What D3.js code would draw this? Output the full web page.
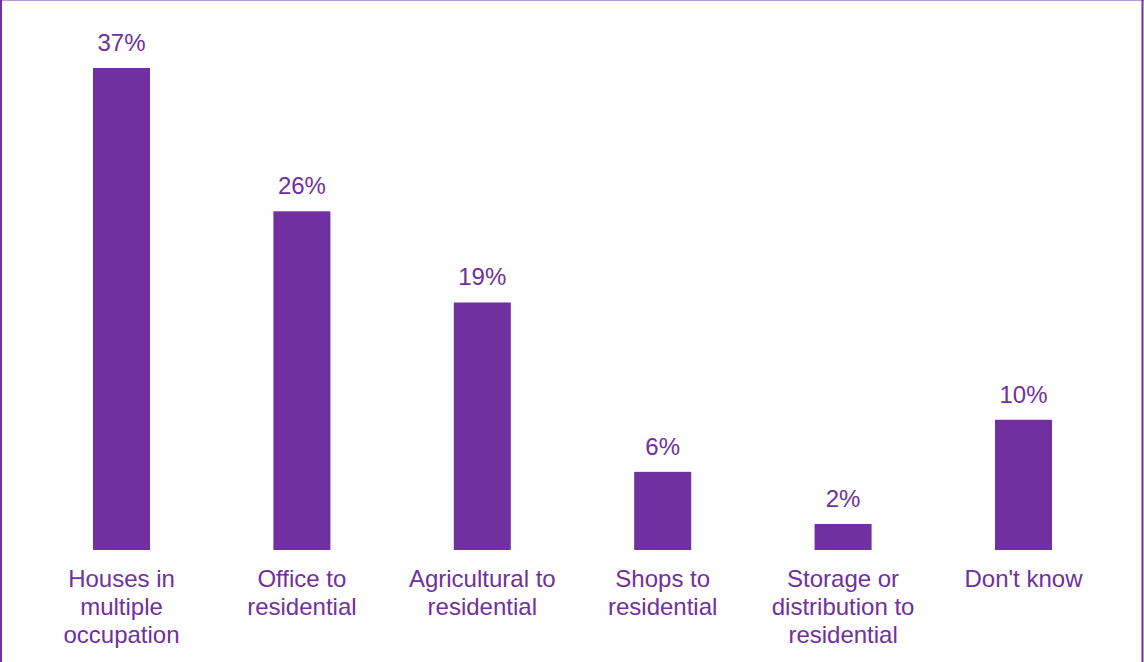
<!DOCTYPE html>
<html>
<head>
<meta charset="utf-8">
<script src="https://cdn.jsdelivr.net/npm/d3@7"></script>
<style>
  html, body { margin: 0; padding: 0; background: #fff; }
  svg { display: block; }
</style>
</head>
<body>
<div id="chart"></div>
<script>
// Share of respondents by type of permitted development conversion
const categories = [
  ["Houses in", "multiple", "occupation"],
  ["Office to", "residential"],
  ["Agricultural to", "residential"],
  ["Shops to", "residential"],
  ["Storage or", "distribution to", "residential"],
  ["Don't know"]
];
const values = [37, 26, 19, 6, 2, 10];
const valueLabels = ["37%", "26%", "19%", "6%", "2%", "10%"];

const W = 1144, H = 662;
const purple = "#7030A0";
const font = "'Liberation Sans', Arial, sans-serif";

const svg = d3.select("#chart").append("svg")
  .attr("width", W).attr("height", H);

// frame around the chart area
svg.append("line").attr("x1", 0).attr("x2", W).attr("y1", 0.5).attr("y2", 0.5)
  .attr("stroke", "#B89AD6").attr("stroke-width", 1);
svg.append("line").attr("x1", 1).attr("x2", 1).attr("y1", 0).attr("y2", H)
  .attr("stroke", purple).attr("stroke-width", 2);
svg.append("line").attr("x1", W - 1.5).attr("x2", W - 1.5).attr("y1", 0).attr("y2", H)
  .attr("stroke", purple).attr("stroke-width", 2);

const idx = d3.range(values.length);
const x = d3.scaleBand().domain(idx).range([31.3, 1113.7])
  .paddingInner(0.684).paddingOuter(0.342);
const y = d3.scaleLinear().domain([0, 37]).range([550, 68]);

svg.append("g").selectAll("rect").data(idx).join("rect")
  .attr("x", i => x(i))
  .attr("y", i => y(values[i]))
  .attr("width", x.bandwidth())
  .attr("height", i => y(0) - y(values[i]))
  .attr("fill", purple);

svg.append("g").selectAll("text").data(idx).join("text")
  .attr("x", i => x(i) + x.bandwidth() / 2)
  .attr("y", i => y(values[i]) - 17)
  .attr("text-anchor", "middle")
  .attr("font-family", font).attr("font-size", 24)
  .attr("fill", purple)
  .text(i => valueLabels[i]);

const cat = svg.append("g").selectAll("text").data(idx).join("text")
  .attr("text-anchor", "middle")
  .attr("font-family", font).attr("font-size", 24)
  .attr("fill", purple);
cat.each(function(i) {
  const t = d3.select(this);
  categories[i].forEach((line, k) => {
    t.append("tspan")
      .attr("x", x(i) + x.bandwidth() / 2)
      .attr("y", 587 + k * 28)
      .text(line);
  });
});
</script>
</body>
</html>
